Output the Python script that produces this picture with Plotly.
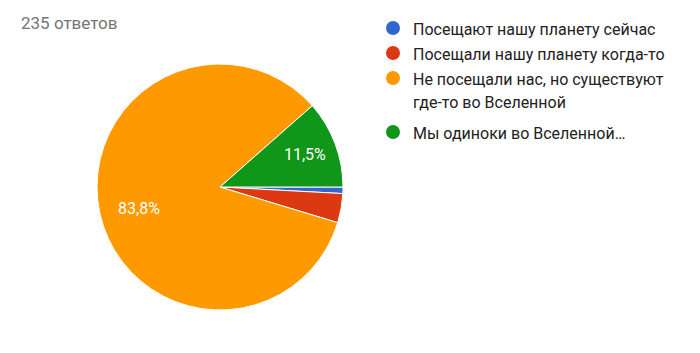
import plotly.graph_objects as go

labels = ["Посещают нашу планету сейчас", "Посещали нашу планету когда-то",
          "Не посещали нас, но существуют<br>где-то во Вселенной", "Мы одиноки во Вселенной…"]
values = [2, 9, 197, 27]
pct_text = ["", "", "83,8%", "11,5%"]
colors = ["#3366cc", "#dc3912", "#ff9900", "#109618"]
title_text = "235 ответов"

# the large slice label is placed as in the reference (nearer the rim than plotly's default)
pie_text = [t if i != 2 else "" for i, t in enumerate(pct_text)]

fig = go.Figure()
fig.add_trace(go.Pie(
    labels=labels, values=values, text=pie_text, textinfo="text",
    textposition="inside", insidetextorientation="horizontal",
    sort=False, direction="clockwise", rotation=90,
    marker=dict(colors=colors, line=dict(color="white", width=1)),
    textfont=dict(family="Roboto", size=16, color="white"),
    domain=dict(x=[97/700, 343/700], y=[1-310/353, 1-64/353]),
    showlegend=False, hoverinfo="label+percent",
))

annotations = [dict(text=title_text, x=19/700, y=1-23/353, xref="paper", yref="paper",
                    xanchor="left", yanchor="middle", showarrow=False,
                    font=dict(family="Roboto", size=17, color="#757575")),
               dict(text=pct_text[2], x=139/700, y=1-208/353, xref="paper", yref="paper",
                    xanchor="center", yanchor="middle", showarrow=False,
                    font=dict(family="Roboto", size=16, color="white"))]
shapes = []
rows = [28, 53, 78, 132]
for lab, col, yc in zip(labels, colors, rows):
    shapes.append(dict(type="circle", xref="paper", yref="paper",
                       x0=386/700, x1=400/700, y0=1-(yc+7)/353, y1=1-(yc-7)/353,
                       fillcolor=col, line=dict(width=0)))
    for i, line in enumerate(lab.split("<br>")):
        annotations.append(dict(text=line, x=411/700, y=1-(yc + 1 + 24*i)/353,
                                xref="paper", yref="paper",
                                xanchor="left", yanchor="middle", align="left", showarrow=False,
                                font=dict(family="Roboto", size=16, color="#222222")))

fig.update_layout(width=700, height=353, margin=dict(l=0, r=0, t=0, b=0),
                  paper_bgcolor="white", plot_bgcolor="white",
                  annotations=annotations, shapes=shapes)
fig.write_html("out.html")
